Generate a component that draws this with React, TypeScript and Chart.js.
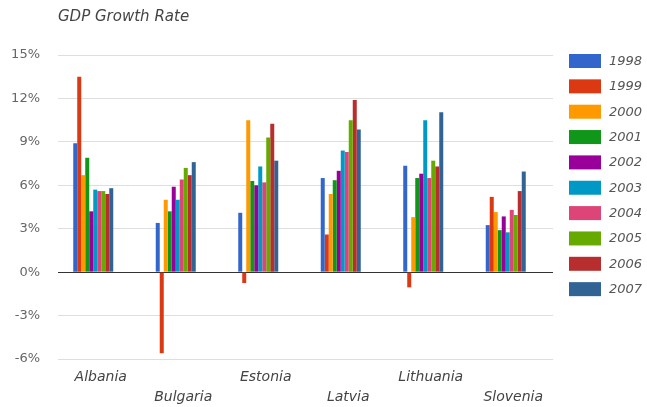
import React, { useEffect, useRef } from "react";
import { Chart, registerables } from "chart.js";

Chart.register(...registerables);

// Countries along the x axis
const countries = ["Albania", "Bulgaria", "Estonia", "Latvia", "Lithuania", "Slovenia"];

// Series: one per year, values in % for each country above
const years = ["1998", "1999", "2000", "2001", "2002", "2003", "2004", "2005", "2006", "2007"];
const growth1998 = [8.9, 3.4, 4.1, 6.5, 7.35, 3.25];
const growth1999 = [13.5, -5.6, -0.75, 2.6, -1.05, 5.2];
const growth2000 = [6.7, 5.0, 10.5, 5.4, 3.8, 4.15];
const growth2001 = [7.9, 4.2, 6.3, 6.35, 6.5, 2.9];
const growth2002 = [4.2, 5.9, 6.0, 7.0, 6.8, 3.85];
const growth2003 = [5.7, 5.0, 7.3, 8.4, 10.5, 2.75];
const growth2004 = [5.6, 6.4, 6.2, 8.3, 6.5, 4.3];
const growth2005 = [5.6, 7.2, 9.3, 10.5, 7.7, 3.95];
const growth2006 = [5.4, 6.7, 10.25, 11.9, 7.3, 5.6];
const growth2007 = [5.8, 7.6, 7.7, 9.85, 11.05, 6.95];

// Y axis tick values (%)
const yTicks = [-6, -3, 0, 3, 6, 9, 12, 15];

const seriesValues = [
  growth1998, growth1999, growth2000, growth2001, growth2002,
  growth2003, growth2004, growth2005, growth2006, growth2007,
];

const palette = [
  "#3366cc", "#dc3912", "#ff9900", "#109618", "#990099",
  "#0099c6", "#dd4477", "#66aa00", "#b82e2e", "#316395",
];

const FONT = "'DejaVu Sans', 'Liberation Sans', Arial, sans-serif";

// Title and legend drawn on the canvas
const decorPlugin = {
  id: "decor",
  afterLayout(chart: any) {
    // bar groups sit slightly left of the gridline span
    const x = chart.scales.x;
    x.left -= 6;
    x.right -= 6;
    x.configure();
  },
  afterDraw(chart: any) {
    const ctx = chart.ctx;
    ctx.save();
    ctx.font = `italic 15px ${FONT}`;
    ctx.fillStyle = "#444";
    ctx.textAlign = "left";
    ctx.textBaseline = "middle";
    ctx.fillText("GDP Growth Rate", 58, 17);

    ctx.font = `italic 13px ${FONT}`;
    chart.data.datasets.forEach((ds: any, i: number) => {
      const top = 54 + i * 25.35;
      ctx.fillStyle = ds.backgroundColor;
      ctx.fillRect(569, top, 32, 14);
      ctx.fillStyle = "#555";
      ctx.fillText(ds.label, 609, top + 7.5);
    });
    ctx.restore();
  },
};

export default function App() {
  const canvasRef = useRef<HTMLCanvasElement>(null);

  useEffect(() => {
    document.body.style.margin = "0";
    const canvas = canvasRef.current;
    if (!canvas) return;

    const chart = new Chart(canvas, {
      type: "bar",
      data: {
        labels: countries,
        datasets: years.map((y, i) => ({
          label: y,
          data: seriesValues[i],
          backgroundColor: palette[i],
          borderWidth: 0,
          categoryPercentage: 0.485,
          barPercentage: 1,
        })),
      },
      options: {
        responsive: false,
        animation: false,
        devicePixelRatio: 1,
        layout: { padding: { top: 55, right: 94, left: 0, bottom: 0 } },
        plugins: {
          legend: { display: false },
          title: { display: false },
          tooltip: { enabled: false },
        },
        scales: {
          x: {
            grid: { display: false, drawTicks: false },
            border: { display: false },
            ticks: {
              padding: 8,
              labelOffset: 7.5,
              color: "#444",
              font: { family: FONT, size: 14, style: "italic", lineHeight: "20px" },
              callback: (_v: any, i: number) => (i % 2 ? ["", countries[i]] : countries[i]),
            },
            afterFit: (s: any) => {
              s.height = 48;
            },
          },
          y: {
            min: yTicks[0],
            max: yTicks[yTicks.length - 1],
            afterBuildTicks: (s: any) => {
              s.ticks = yTicks.map((v) => ({ value: v }));
            },
            grid: {
              drawTicks: false,
              color: (c: any) => (c.tick && c.tick.value === 0 ? "#333" : "#dedede"),
              lineWidth: 1,
            },
            border: { display: false },
            ticks: {
              padding: 18,
              color: "#666",
              font: { family: FONT, size: 13 },
              callback: (v: any) => `${v}%`,
            },
            afterFit: (s: any) => {
              s.width = 58;
            },
          },
        },
      },
      plugins: [decorPlugin],
    });

    return () => chart.destroy();
  }, []);

  return (
    <div style={{ width: 647, height: 407, overflow: "hidden", background: "#fff" }}>
      <canvas ref={canvasRef} width={647} height={407} style={{ width: 647, height: 407, display: "block" }} />
    </div>
  );
}
